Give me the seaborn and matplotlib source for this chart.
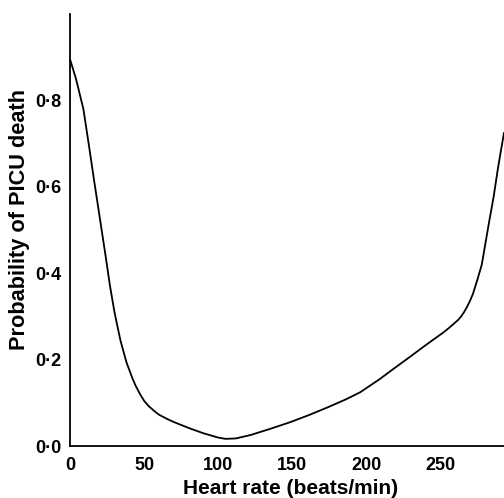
import matplotlib
matplotlib.use('Agg')
import matplotlib.pyplot as plt
import seaborn as sns
import pandas as pd

# values
heart_rate = [0, 4, 9, 13, 16, 20, 24, 27, 30, 34, 38, 42, 44, 47, 50, 53, 57, 60, 65, 70,
              81, 90, 100, 105, 112, 122, 135, 149, 162, 174, 186, 196, 209, 218, 230,
              241, 252, 256, 259, 262, 264, 266, 268, 270, 272, 275, 278, 280, 283, 286,
              289, 293]
prob_death = [0.895, 0.85, 0.78, 0.69, 0.62, 0.53, 0.44, 0.37, 0.31, 0.245, 0.195, 0.158,
              0.142, 0.122, 0.105, 0.093, 0.081, 0.073, 0.064, 0.056, 0.041, 0.03, 0.02,
              0.017, 0.018, 0.026, 0.04, 0.056, 0.073, 0.09, 0.108, 0.125, 0.155, 0.178,
              0.208, 0.236, 0.263, 0.274, 0.283, 0.292, 0.300, 0.310, 0.322, 0.336, 0.352,
              0.385, 0.42, 0.46, 0.52, 0.577, 0.645, 0.725]
x_ticks = [0, 50, 100, 150, 200, 250]
y_ticks = [0.0, 0.2, 0.4, 0.6, 0.8]
y_tick_labels = ['0·0', '0·2', '0·4', '0·6', '0·8']

df = pd.DataFrame({'hr': heart_rate, 'p': prob_death})

sns.set_style('white')
plt.rcParams['font.family'] = ['Liberation Sans', 'DejaVu Sans']
plt.rcParams['text.color'] = 'black'
plt.rcParams['axes.labelcolor'] = 'black'
plt.rcParams['xtick.color'] = 'black'
plt.rcParams['ytick.color'] = 'black'

fig = plt.figure(figsize=(5.04, 4.98), dpi=100)
ax = fig.add_axes([0.139, 0.104, 0.861, 0.868])
sns.lineplot(data=df, x='hr', y='p', ax=ax, color='black', linewidth=1.3)

ax.set_xlim(0, 293)
ax.set_ylim(0, 1.0)
ax.set_xticks(x_ticks)
ax.set_xticklabels([str(t) for t in x_ticks], fontsize=13, fontweight='bold')
ax.set_yticks(y_ticks)
ax.set_yticklabels(y_tick_labels, fontsize=13, fontweight='bold')
ax.tick_params(direction='in', length=4, width=1.2, pad=6)
ax.tick_params(axis='x', pad=8)

for side in ['top', 'right']:
    ax.spines[side].set_visible(False)
for side in ['left', 'bottom']:
    ax.spines[side].set_color('black')
    ax.spines[side].set_linewidth(1.3)

ax.set_xlabel('Heart rate (beats/min)', fontsize=15, fontweight='bold')
ax.set_ylabel('Probability of PICU death', fontsize=15.7, fontweight='bold')
ax.xaxis.set_label_coords(0.509, -0.077)
ax.yaxis.set_label_coords(-0.092, 0.525)

fig.savefig('out.png', dpi=100)
